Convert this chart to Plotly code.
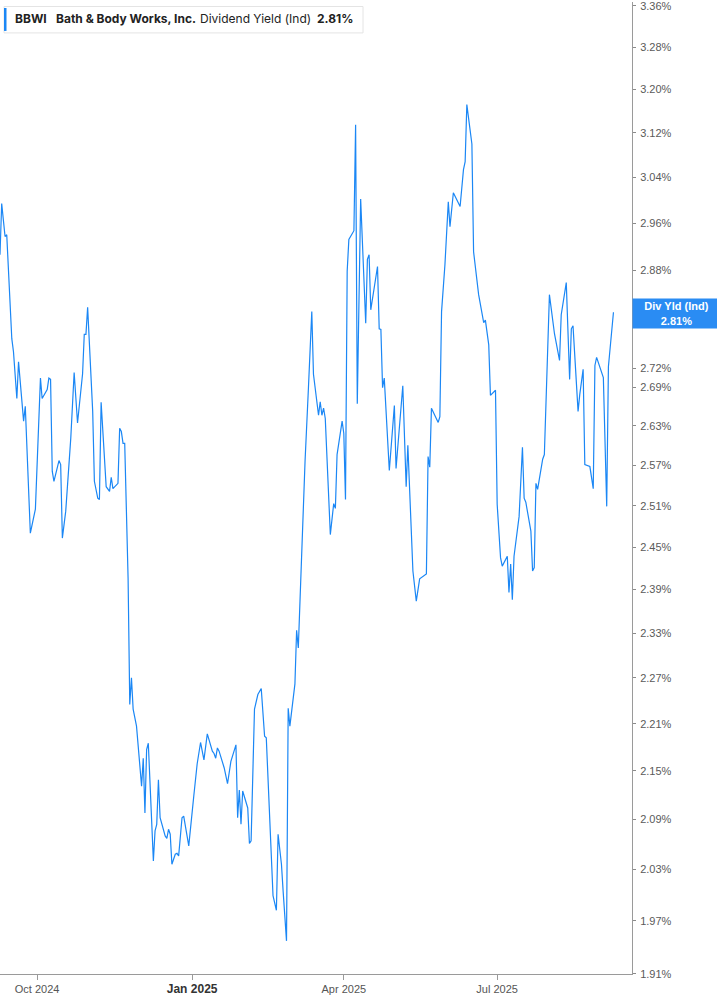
import plotly.graph_objects as go

# BBWI indicated dividend yield (%)
dates = [
    "2024-09-09", "2024-09-10", "2024-09-12", "2024-09-13", "2024-09-16", "2024-09-17",
    "2024-09-19", "2024-09-20", "2024-09-23", "2024-09-24", "2024-09-27", "2024-09-30",
    "2024-10-03", "2024-10-04", "2024-10-07", "2024-10-08", "2024-10-09", "2024-10-10",
    "2024-10-11", "2024-10-14", "2024-10-15", "2024-10-16", "2024-10-18", "2024-10-21",
    "2024-10-23", "2024-10-25", "2024-10-28", "2024-10-29", "2024-10-30", "2024-10-31",
    "2024-11-03", "2024-11-04", "2024-11-06", "2024-11-07", "2024-11-08", "2024-11-09",
    "2024-11-11", "2024-11-13", "2024-11-14", "2024-11-15", "2024-11-18", "2024-11-19",
    "2024-11-20", "2024-11-21", "2024-11-22", "2024-11-24", "2024-11-25", "2024-11-26",
    "2024-11-27", "2024-11-29", "2024-12-02", "2024-12-03", "2024-12-04", "2024-12-05",
    "2024-12-06", "2024-12-09", "2024-12-10", "2024-12-11", "2024-12-12", "2024-12-13",
    "2024-12-16", "2024-12-17", "2024-12-18", "2024-12-19", "2024-12-20", "2024-12-22",
    "2024-12-23", "2024-12-24", "2024-12-26", "2024-12-27", "2024-12-30", "2025-01-02",
    "2025-01-04", "2025-01-06", "2025-01-08", "2025-01-10", "2025-01-13", "2025-01-14",
    "2025-01-15", "2025-01-16", "2025-01-17", "2025-01-20", "2025-01-22", "2025-01-24",
    "2025-01-27", "2025-01-28", "2025-01-29", "2025-01-30", "2025-01-31", "2025-02-03",
    "2025-02-04", "2025-02-05", "2025-02-07", "2025-02-09", "2025-02-11", "2025-02-13",
    "2025-02-14", "2025-02-18", "2025-02-20", "2025-02-21", "2025-02-23", "2025-02-24",
    "2025-02-26", "2025-02-27", "2025-02-28", "2025-03-03", "2025-03-04", "2025-03-05",
    "2025-03-06", "2025-03-07", "2025-03-09", "2025-03-11", "2025-03-13", "2025-03-14",
    "2025-03-17", "2025-03-18", "2025-03-19", "2025-03-20", "2025-03-21", "2025-03-24",
    "2025-03-26", "2025-03-27", "2025-03-28", "2025-03-31", "2025-04-01", "2025-04-02",
    "2025-04-03", "2025-04-04", "2025-04-07", "2025-04-08", "2025-04-09", "2025-04-11",
    "2025-04-14", "2025-04-15", "2025-04-16", "2025-04-17", "2025-04-21", "2025-04-22",
    "2025-04-23", "2025-04-24", "2025-04-25", "2025-04-28", "2025-05-01", "2025-05-02",
    "2025-05-06", "2025-05-08", "2025-05-09", "2025-05-12", "2025-05-14", "2025-05-16",
    "2025-05-20", "2025-05-21", "2025-05-22", "2025-05-23", "2025-05-27", "2025-05-28",
    "2025-05-29", "2025-05-31", "2025-06-02", "2025-06-03", "2025-06-05", "2025-06-09",
    "2025-06-11", "2025-06-12", "2025-06-13", "2025-06-16", "2025-06-17", "2025-06-20",
    "2025-06-23", "2025-06-24", "2025-06-26", "2025-06-27", "2025-06-30", "2025-07-01",
    "2025-07-03", "2025-07-04", "2025-07-07", "2025-07-08", "2025-07-09", "2025-07-10",
    "2025-07-11", "2025-07-14", "2025-07-16", "2025-07-17", "2025-07-18", "2025-07-21",
    "2025-07-22", "2025-07-23", "2025-07-24", "2025-07-25", "2025-07-28", "2025-07-29",
    "2025-08-01", "2025-08-04", "2025-08-07", "2025-08-08", "2025-08-11", "2025-08-13",
    "2025-08-14", "2025-08-15", "2025-08-18", "2025-08-19", "2025-08-21", "2025-08-22",
    "2025-08-25", "2025-08-27", "2025-08-28", "2025-08-29", "2025-09-02", "2025-09-04",
    "2025-09-05", "2025-09-08",
]

div_yield = [
    2.906, 2.994, 2.937, 2.940, 2.767, 2.746, 2.672, 2.730, 2.637, 2.660, 2.470, 2.505,
    2.704, 2.672, 2.686, 2.704, 2.702, 2.561, 2.546, 2.577, 2.571, 2.463, 2.502, 2.611,
    2.713, 2.634, 2.711, 2.774, 2.774, 2.818, 2.652, 2.546, 2.521, 2.519, 2.666, 2.617,
    2.538, 2.531, 2.552, 2.535, 2.543, 2.626, 2.621, 2.603, 2.603, 2.406, 2.235, 2.270,
    2.229, 2.207, 2.131, 2.166, 2.098, 2.177, 2.185, 2.040, 2.076, 2.084, 2.139, 2.092,
    2.070, 2.067, 2.078, 2.072, 2.036, 2.048, 2.049, 2.046, 2.092, 2.094, 2.058, 2.119,
    2.159, 2.186, 2.164, 2.197, 2.175, 2.172, 2.166, 2.179, 2.175, 2.154, 2.134, 2.162,
    2.183, 2.092, 2.126, 2.084, 2.125, 2.104, 2.061, 2.064, 2.229, 2.248, 2.256, 2.194,
    2.192, 1.999, 1.982, 2.072, 2.036, 2.004, 1.947, 2.230, 2.207, 2.262, 2.334, 2.310,
    2.374, 2.463, 2.576, 2.688, 2.811, 2.710, 2.646, 2.667, 2.646, 2.657, 2.641, 2.468,
    2.513, 2.506, 2.586, 2.637, 2.618, 2.519, 2.878, 2.932, 2.947, 3.135, 2.664, 3.002,
    2.792, 2.898, 2.906, 2.814, 2.886, 2.783, 2.782, 2.689, 2.704, 2.562, 2.661, 2.565,
    2.692, 2.538, 2.600, 2.416, 2.374, 2.405, 2.412, 2.583, 2.567, 2.657, 2.635, 2.644,
    2.811, 2.889, 2.997, 2.954, 3.013, 2.989, 3.054, 3.068, 3.172, 3.100, 2.911, 2.839,
    2.793, 2.797, 2.757, 2.677, 2.685, 2.512, 2.435, 2.423, 2.437, 2.386, 2.426, 2.376,
    2.437, 2.494, 2.597, 2.521, 2.515, 2.473, 2.416, 2.421, 2.543, 2.534, 2.579, 2.586,
    2.839, 2.775, 2.732, 2.806, 2.859, 2.702, 2.783, 2.788, 2.652, 2.678, 2.718, 2.571,
    2.568, 2.535, 2.724, 2.737, 2.705, 2.509, 2.722, 2.810,
]

y_ticks = [1.91, 1.97, 2.03, 2.09, 2.15, 2.21, 2.27, 2.33, 2.39, 2.45, 2.51, 2.57,
           2.63, 2.69, 2.72, 2.88, 2.96, 3.04, 3.12, 3.20, 3.28, 3.36]
x_ticks = ["2024-10-01", "2025-01-01", "2025-04-01", "2025-07-01"]
x_tick_text = ["Oct 2024", "<span style='font-size:12px;color:#333'><b>Jan 2025</b></span>",
               "Apr 2025", "Jul 2025"]

ticker = "BBWI"
company = "Bath & Body Works, Inc."
metric = "Dividend Yield (Ind)"
last_value = "2.81%"

W, H = 717, 1005
ML, MR, MT, MB = 0, 85, 0, 31
PW, PH = W - ML - MR, H - MT - MB


def px(x):
    return x / PW


def py(y):
    return 1 - y / PH


BLUE = "#1b87f5"

fig = go.Figure()
fig.add_trace(go.Scatter(x=dates, y=div_yield, mode="lines",
                         line=dict(color=BLUE, width=1.2), hoverinfo="x+y"))

fig.update_layout(
    width=W, height=H, margin=dict(l=ML, r=MR, t=MT, b=MB),
    plot_bgcolor="white", paper_bgcolor="white", showlegend=False,
    font=dict(family="Liberation Sans, Arial, sans-serif", size=11, color="#5a5a5a"),
    xaxis=dict(range=["2024-09-09", "2025-09-19"], showgrid=False, zeroline=False,
               tickvals=x_ticks, ticktext=x_tick_text, ticks="outside", ticklen=5,
               tickcolor="#9a9a9a", showline=True, linecolor="#9a9a9a", linewidth=1,
               tickfont=dict(size=11, color="#555555")),
    yaxis=dict(type="log", side="right", range=[0.28096, 0.52735], showgrid=False,
               zeroline=False, tickvals=y_ticks,
               ticktext=[f"{v:.2f}%" for v in y_ticks], ticks="outside", ticklen=3,
               tickcolor="#8a8a8a", showline=True, linecolor="#9a9a9a", linewidth=1,
               ticklabeloverflow="allow", ticklabelstandoff=2,
               tickfont=dict(size=11, color="#5a5a5a")),
)

# header box
fig.add_shape(type="rect", xref="paper", yref="paper", x0=px(4), x1=px(363),
              y0=py(31), y1=py(4.5), line=dict(color="#e4e4e4", width=1), fillcolor="white")
fig.add_shape(type="rect", xref="paper", yref="paper", x0=px(4), x1=px(6.5),
              y0=py(29), y1=py(6), line=dict(width=0), fillcolor=BLUE)

header = [(13, f"<b>{ticker}</b>"), (54, f"<b>{company}</b>"),
          (198, metric), (315, f"<b>{last_value}</b>")]
for x0, txt in header:
    fig.add_annotation(xref="paper", yref="paper", x=px(x0), y=py(17), text=txt,
                       showarrow=False, xanchor="left", yanchor="middle",
                       font=dict(family="Inter, sans-serif", size=12, color="#222222"))

# last value label on the axis
fig.add_annotation(xref="paper", yref="paper", x=1.0, y=py(312.5), xanchor="left",
                   yanchor="middle", showarrow=False, align="center",
                   text=f"<b>Div Yld (Ind)</b><br><b>{last_value}</b>",
                   width=83, height=25, bgcolor="#2a8cf3", borderpad=2,
                   font=dict(family="Liberation Sans, Arial, sans-serif", size=11, color="white"))

# the page body has a default 8px margin; drop it so the chart sits at the corner
fig.write_html("out.html", config={"displayModeBar": False},
               post_script="document.body.style.margin='0';")
